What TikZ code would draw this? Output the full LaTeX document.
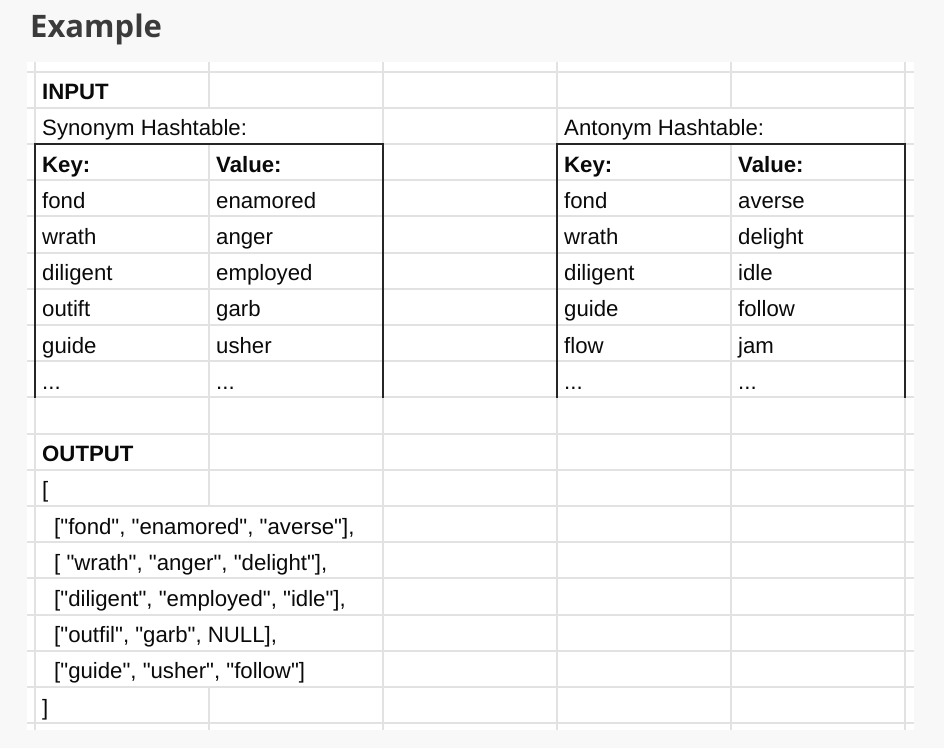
\documentclass[tikz,border=0pt]{standalone}
\usepackage{fontspec}
\setmainfont{Liberation Sans}[Ligatures=TeXOff]
\newfontfamily\titlefont{Open Sans}
\usepackage{xcolor}
\usepackage{tikz}
\usetikzlibrary{calc}
\definecolor{bg}{HTML}{F8F8F8}
\definecolor{sheet}{HTML}{FFFFFF}
\definecolor{gridc}{HTML}{E2E2E2}
\definecolor{ink}{HTML}{0A0A0A}
\definecolor{ttl}{HTML}{3B3B3B}
\tikzset{
  gridl/.style={draw=gridc, line width=2pt},
  box/.style={draw=black!85, line width=1.6pt, line cap=rect},
  cell/.style={anchor=base west, inner sep=0pt, text=ink, font=\fontsize{22.2}{24}\selectfont},
  hd/.style={anchor=base west, inner sep=0pt, text=ink, font=\fontsize{22.2}{24}\selectfont\bfseries},
  ttlab/.style={anchor=base west, inner sep=0pt, text=ttl, font=\titlefont\fontsize{31}{36}\selectfont\bfseries},
}

\begin{document}
\begin{tikzpicture}[x=1pt, y={(0pt,-1pt)}]
  \useasboundingbox (0,0) rectangle (944,748);
  \fill[bg] (0,0) rectangle (944,748);
  \fill[sheet] (27,62) rectangle (914,730);

  % grid
  \foreach \y in {71.5,107.7,143.9,180.1,216.3,252.5,288.7,324.9,361.1,397.3,433.5,469.7,505.9,542.1,578.3,614.5,650.7,686.9,723.1}
    \draw[gridl] (27,\y) -- (914,\y);
  \foreach \x in {35,383,557,905}
    \draw[gridl] (\x,62) -- (\x,730);
  \draw[gridl] (209,62) -- (209,107.7) (209,143.9) -- (209,505.9) (209,686.9) -- (209,730);
  \draw[gridl] (731,62) -- (731,107.7) (731,143.9) -- (731,730);

  \node[ttlab] (ttl) at (30,37) {Example};

  % input
  \node[hd] (inp) at (42,99.7) {INPUT};
  \node[cell] (synT) at (42,135.9) {Synonym Hashtable:};
  \node[cell] (antT) at (564,135.9) {Antonym Hashtable:};

  \node[hd] (sK) at (42,172.1) {Key:};
  \node[hd] (sV) at (216,172.1) {Value:};
  \node[cell] (s1k) at (42,208.3) {fond};
  \node[cell] (s1v) at (216,208.3) {enamored};
  \node[cell] (s2k) at (42,244.5) {wrath};
  \node[cell] (s2v) at (216,244.5) {anger};
  \node[cell] (s3k) at (42,280.7) {diligent};
  \node[cell] (s3v) at (216,280.7) {employed};
  \node[cell] (s4k) at (42,316.9) {outift};
  \node[cell] (s4v) at (216,316.9) {garb};
  \node[cell] (s5k) at (42,353.1) {guide};
  \node[cell] (s5v) at (216,353.1) {usher};
  \node[cell] (s6k) at (42,389.3) {...};
  \node[cell] (s6v) at (216,389.3) {...};

  \node[hd] (aK) at (564,172.1) {Key:};
  \node[hd] (aV) at (738,172.1) {Value:};
  \node[cell] (a1k) at (564,208.3) {fond};
  \node[cell] (a1v) at (738,208.3) {averse};
  \node[cell] (a2k) at (564,244.5) {wrath};
  \node[cell] (a2v) at (738,244.5) {delight};
  \node[cell] (a3k) at (564,280.7) {diligent};
  \node[cell] (a3v) at (738,280.7) {idle};
  \node[cell] (a4k) at (564,316.9) {guide};
  \node[cell] (a4v) at (738,316.9) {follow};
  \node[cell] (a5k) at (564,353.1) {flow};
  \node[cell] (a5v) at (738,353.1) {jam};
  \node[cell] (a6k) at (564,389.3) {...};
  \node[cell] (a6v) at (738,389.3) {...};

  \draw[box] (35,397.3) -- (35,143.9) -- (383,143.9) -- (383,397.3);
  \draw[box] (557,397.3) -- (557,143.9) -- (905,143.9) -- (905,397.3);

  % output
  \node[hd] (outp) at (42,461.7) {OUTPUT};
  \node[cell] (opn) at (42,497.9) {[};
  \node[cell] (o1) at (54,534.1) {["fond", "enamored", "averse"],};
  \node[cell] (o2) at (54,570.3) {[ "wrath", "anger", "delight"],};
  \node[cell] (o3) at (54,606.5) {["diligent", "employed", "idle"],};
  \node[cell] (o4) at (54,642.7) {["outfil", "garb", NULL],};
  \node[cell] (o5) at (54,678.9) {["guide", "usher", "follow"]};
  \node[cell] (cls) at (42,715.1) {]};
\end{tikzpicture}
\end{document}
